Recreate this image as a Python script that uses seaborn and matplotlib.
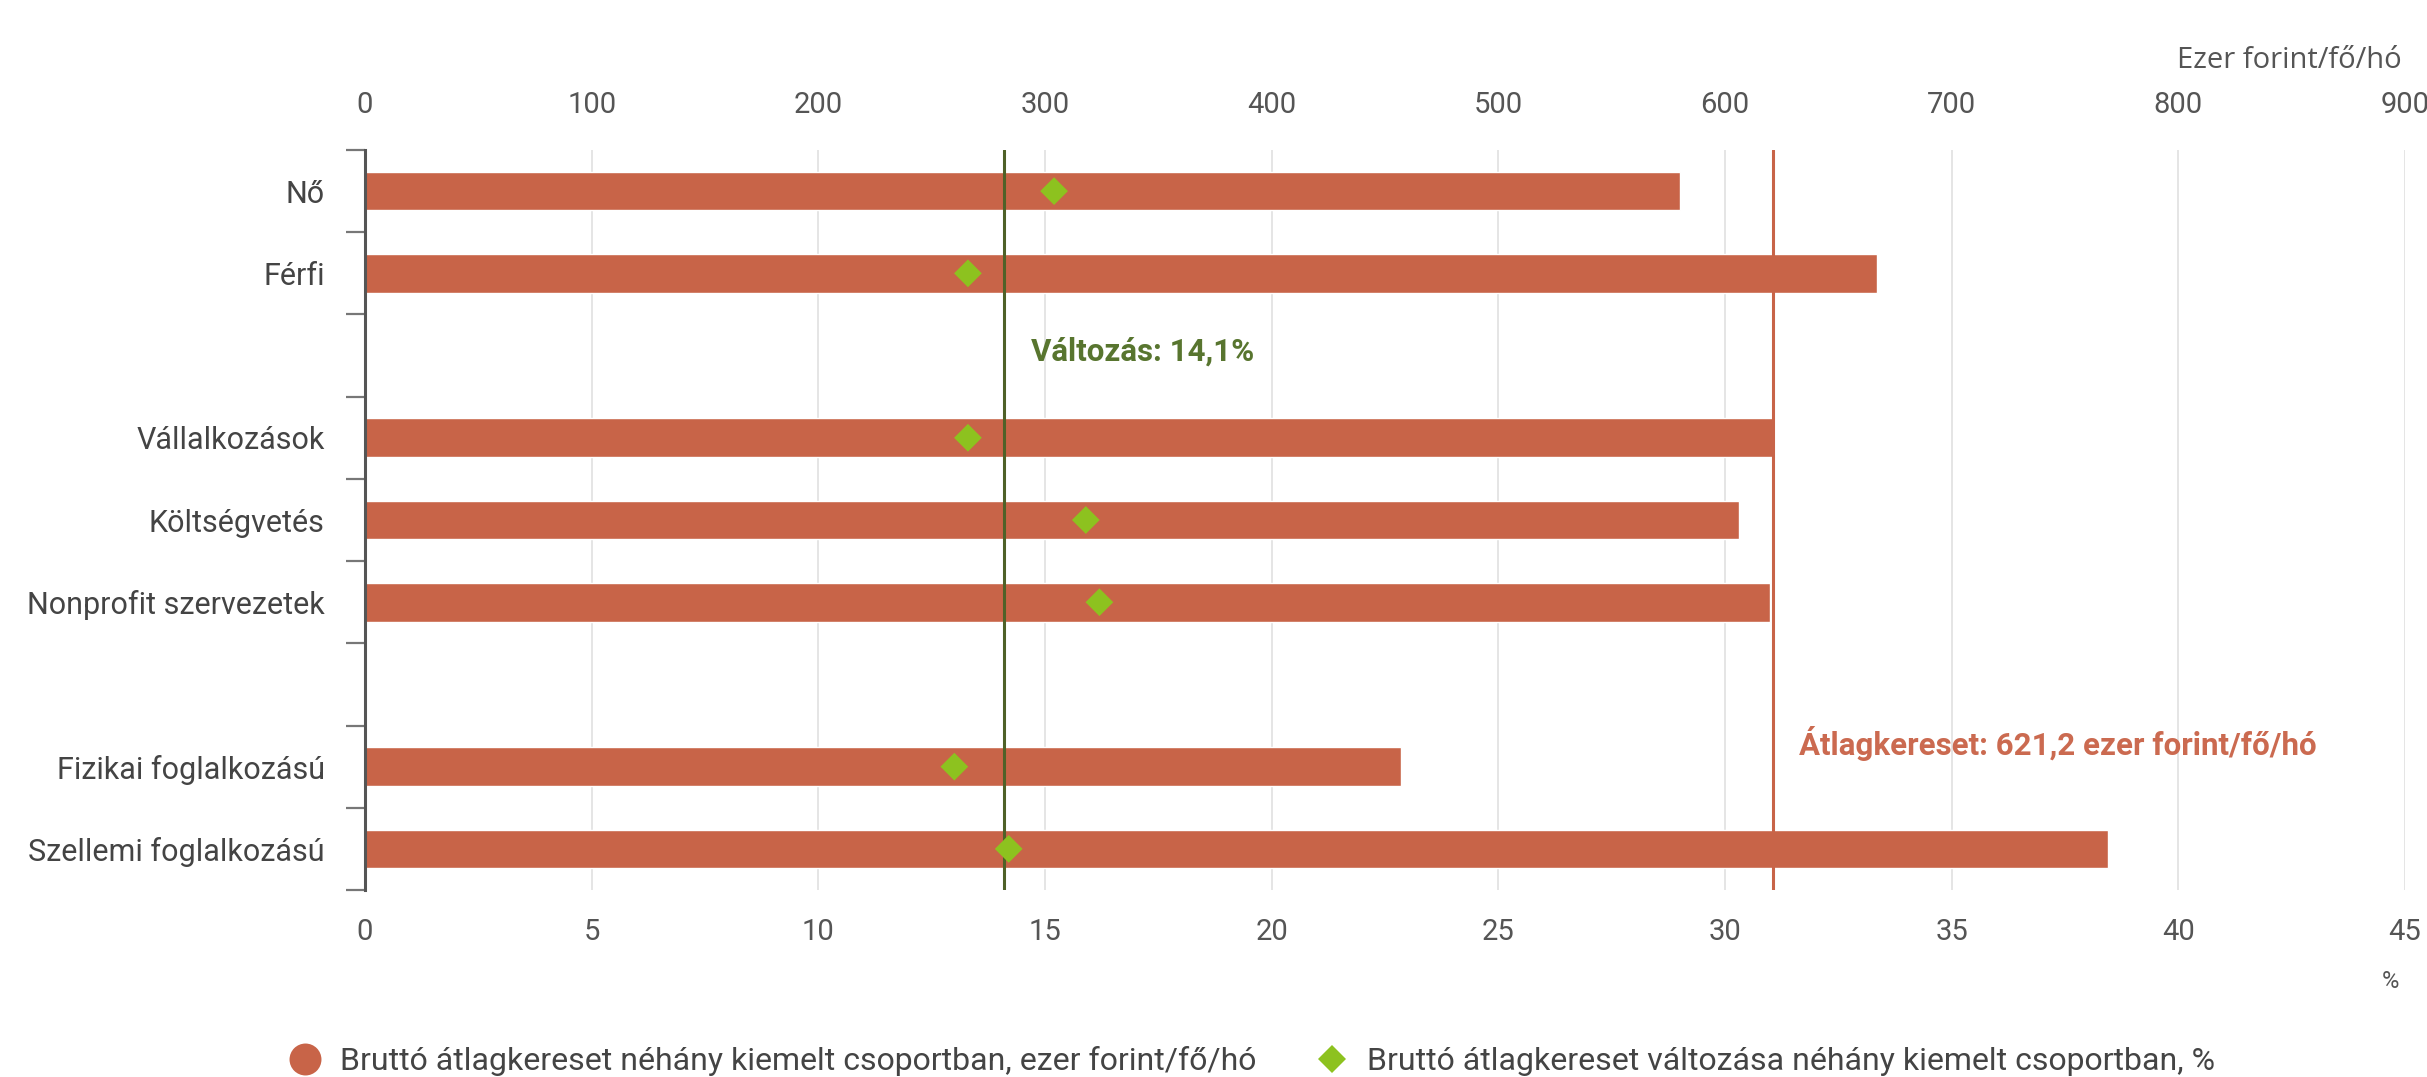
import numpy as np
import pandas as pd
import seaborn as sns
from matplotlib import pyplot as plt
from matplotlib.lines import Line2D

# data
groups = [
    "Nő",
    "Férfi",
    "Vállalkozások",
    "Költségvetés",
    "Nonprofit szervezetek",
    "Fizikai foglalkozású",
    "Szellemi foglalkozású",
]
wages = [580, 667, 622, 606, 620, 457, 769]  # ezer forint/fő/hó
changes = [15.2, 13.3, 13.3, 15.9, 16.2, 13.0, 14.2]  # %
order = [
    "Nő", "Férfi", "",
    "Vállalkozások", "Költségvetés", "Nonprofit szervezetek", " ",
    "Fizikai foglalkozású", "Szellemi foglalkozású",
]
avg_wage = 621.2
avg_change = 14.1
wage_ticks = list(range(0, 901, 100))
change_ticks = list(range(0, 46, 5))

BAR = "#C86448"
DIAMOND = "#8DC21F"
LINE_GREEN = "#4F6128"
TEXT_GREEN = "#58752F"
TEXT_RED = "#CB6A50"
GREY = "#555555"

sns.set_style("white")
plt.rcParams["font.family"] = ["Roboto", "DejaVu Sans"]

df = pd.DataFrame({"csoport": groups, "kereset": wages, "valtozas": changes})
df["pos"] = [order.index(g) for g in groups]

fig = plt.figure(figsize=(24.27, 10.77), dpi=100)
ax = fig.add_axes([365 / 2427, 1 - 890 / 1077, 2040 / 2427, 740 / 1077])

sns.barplot(
    data=df, x="kereset", y="csoport", order=order, ax=ax,
    color=BAR, saturation=1, width=0.47, orient="h", zorder=2,
)
ax.axvline(avg_wage, color=BAR, lw=2.2, zorder=4)

ax2 = ax.twiny()
ax2.axvline(avg_change, color=LINE_GREEN, lw=2.2, zorder=3)
sns.scatterplot(
    data=df, x="valtozas", y="pos", ax=ax2, marker="D", s=200,
    color=DIAMOND, edgecolor="none", zorder=5, legend=False,
)

# axes cosmetics
ax.xaxis.tick_top()
ax2.xaxis.tick_bottom()
ax.set_xlim(0, 900)
ax2.set_xlim(0, 45)
ax.set_ylim(8.5, -0.5)
ax.set_xticks(wage_ticks)
ax2.set_xticks(change_ticks)
for a in (ax, ax2):
    a.set_xlabel("")
    a.set_ylabel("")
    for s in a.spines.values():
        s.set_visible(False)
ax.spines["left"].set_visible(True)
ax.spines["left"].set_color(GREY)
ax.spines["left"].set_linewidth(2.2)

ax.grid(axis="x", color="#dedede", lw=1.1)
ax.set_axisbelow(True)

ax.tick_params(axis="x", length=0, pad=22, labelsize=21, labelcolor=GREY)
ax2.tick_params(axis="x", length=0, pad=20, labelsize=21, labelcolor=GREY)
ax.set_yticks(np.arange(-0.5, 9, 1), minor=True)
ax.tick_params(axis="y", which="major", length=0, pad=29, labelsize=22, labelcolor="#444444")
ax.tick_params(axis="y", which="minor", length=14, width=1.6, color="#777777", left=True)

ax2.annotate(
    "Változás: 14,1%", xy=(avg_change, 1.95), xytext=(19, 0),
    textcoords="offset points", va="center", ha="left",
    fontsize=22.5, fontweight="bold", color=TEXT_GREEN,
)
ax.annotate(
    "Átlagkereset: 621,2 ezer forint/fő/hó", xy=(avg_wage, 6.72), xytext=(19, 0),
    textcoords="offset points", va="center", ha="left",
    fontsize=22.5, fontweight="bold", color=TEXT_RED,
)

fig.text(2402 / 2427, 1 - 60 / 1077, "Ezer forint/fő/hó", ha="right", va="center",
         fontsize=21, color=GREY, family=["Open Sans", "DejaVu Sans"])
fig.text(2390 / 2427, 1 - 982 / 1077, "%", ha="center", va="center",
         fontsize=17, color=GREY)

handles = [
    Line2D([], [], ls="none", marker="o", markersize=23, color=BAR, markeredgewidth=0),
    Line2D([], [], ls="none", marker="D", markersize=14, color=DIAMOND, markeredgewidth=0),
]
labels = [
    "Bruttó átlagkereset néhány kiemelt csoportban, ezer forint/fő/hó",
    "Bruttó átlagkereset változása néhány kiemelt csoportban, %",
]
fig.legend(
    handles, labels, loc="center left", bbox_to_anchor=(289 / 2427, 1 - 1061 / 1077),
    ncol=2, frameon=False, fontsize=23, handlelength=1.0, handletextpad=0.6,
    columnspacing=1.85, borderpad=0, borderaxespad=0, labelcolor="#444444",
)

fig.savefig("out.png", dpi=100)
